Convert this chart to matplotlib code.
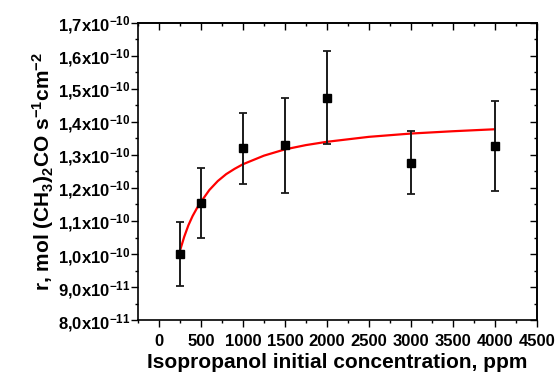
import numpy as np
import matplotlib
matplotlib.use("Agg")
import matplotlib.pyplot as plt
from matplotlib.ticker import MultipleLocator, FixedLocator, FixedFormatter

plt.rcParams['font.family'] = ['Liberation Sans', 'DejaVu Sans']
plt.rcParams['font.weight'] = 'bold'
plt.rcParams['mathtext.fontset'] = 'custom'
plt.rcParams['mathtext.rm'] = 'Liberation Sans:bold'
plt.rcParams['mathtext.it'] = 'Liberation Sans:bold'
plt.rcParams['mathtext.bf'] = 'Liberation Sans:bold'
plt.rcParams['mathtext.default'] = 'rm'

# measured rates
conc = [250, 500, 1000, 1500, 2000, 3000, 4000]
rate = [1.000e-10, 1.156e-10, 1.320e-10, 1.329e-10, 1.474e-10, 1.277e-10, 1.328e-10]
rate_err = [0.098e-10, 0.106e-10, 0.108e-10, 0.144e-10, 0.140e-10, 0.095e-10, 0.136e-10]

# fitted curve
fit_conc = [250, 300, 350, 400, 450, 500, 600, 700, 800, 900, 1000, 1250, 1500,
            1750, 2000, 2500, 3000, 3500, 4000]
fit_rate = [1.010e-10, 1.052e-10, 1.087e-10, 1.115e-10, 1.138e-10, 1.158e-10, 1.194e-10,
            1.221e-10, 1.242e-10, 1.258e-10, 1.272e-10, 1.298e-10, 1.317e-10, 1.330e-10,
            1.340e-10, 1.355e-10, 1.365e-10, 1.372e-10, 1.378e-10]

# y tick labels
ytick_vals = [8.0e-11, 9.0e-11, 1.0e-10, 1.1e-10, 1.2e-10, 1.3e-10, 1.4e-10, 1.5e-10, 1.6e-10, 1.7e-10]
ytick_labels = ['8,0x10$^{-11}$', '9,0x10$^{-11}$', '1,0x10$^{-10}$', '1,1x10$^{-10}$',
                '1,2x10$^{-10}$', '1,3x10$^{-10}$', '1,4x10$^{-10}$', '1,5x10$^{-10}$',
                '1,6x10$^{-10}$', '1,7x10$^{-10}$']

fig = plt.figure(figsize=(5.57, 3.82), dpi=100)
ax = fig.add_axes([0.2478, 0.1623, 0.9636 - 0.2478, 0.9398 - 0.1623])

ax.plot(fit_conc, fit_rate, color='red', lw=1.6, zorder=2)
ax.errorbar(conc, rate, yerr=rate_err, fmt='s', color='black', ms=6,
            ecolor='#1a1a1a', elinewidth=1.4, capsize=2.6, capthick=1.3, zorder=3)

ax.set_xlim(-250, 4500)
ax.set_ylim(8.0e-11, 1.7e-10)
ax.xaxis.set_major_locator(MultipleLocator(500))
ax.xaxis.set_minor_locator(MultipleLocator(250))
ax.yaxis.set_major_locator(FixedLocator(ytick_vals))
ax.yaxis.set_major_formatter(FixedFormatter(ytick_labels))
ax.yaxis.set_minor_locator(MultipleLocator(0.5e-11))

for s in ax.spines.values():
    s.set_linewidth(1.2)

ax.tick_params(which='both', direction='out', width=1.0)
ax.tick_params(which='major', length=4.8)
ax.tick_params(which='minor', length=2.4)
ax.tick_params(axis='y', pad=1, labelsize=12)
ax.tick_params(axis='x', pad=5, labelsize=12)

# mirrored ticks on top and right, pointing inward
top = ax.secondary_xaxis('top')
top.xaxis.set_major_locator(MultipleLocator(500))
top.xaxis.set_minor_locator(MultipleLocator(250))
top.tick_params(which='both', direction='in', width=1.0, labeltop=False)
top.tick_params(which='major', length=4.8)
top.tick_params(which='minor', length=2.4)
right = ax.secondary_yaxis('right')
right.yaxis.set_major_locator(FixedLocator(ytick_vals))
right.yaxis.set_minor_locator(MultipleLocator(0.5e-11))
right.tick_params(which='both', direction='in', width=1.0, labelright=False)
right.tick_params(which='major', length=4.8)
right.tick_params(which='minor', length=2.4)
for sax in (top, right):
    for s in sax.spines.values():
        s.set_linewidth(1.2)

ax.set_xlabel('Isopropanol initial concentration, ppm', fontsize=15, fontweight='bold', labelpad=3)
ax.set_ylabel('r, mol (CH$_3$)$_2$CO s$^{-1}$cm$^{-2}$', fontsize=15, fontweight='bold', labelpad=1)

fig.savefig('out.png', dpi=100)
